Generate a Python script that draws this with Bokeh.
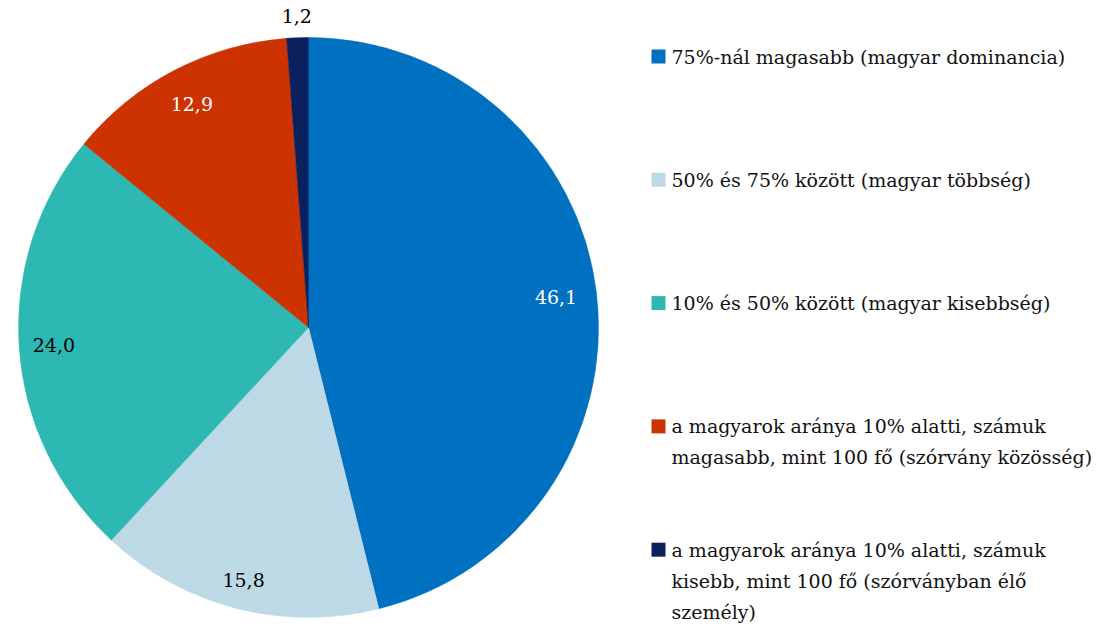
import math
from bokeh.plotting import figure
from bokeh.models import ColumnDataSource
from bokeh.core.properties import value
from bokeh.embed import file_html
from bokeh.resources import INLINE

# ---- data ----
categories = [
    "75%-nál magasabb (magyar dominancia)",
    "50% és 75% között (magyar többség)",
    "10% és 50% között (magyar kisebbség)",
    "a magyarok aránya 10% alatti, számuk\nmagasabb, mint 100 fő (szórvány közösség)",
    "a magyarok aránya 10% alatti, számuk\nkisebb, mint 100 fő (szórványban élő\nszemély)",
]
values = [46.1, 15.8, 24.0, 12.9, 1.2]
colors = ["#0070C0", "#BDD9E5", "#2EB8B4", "#CC3300", "#0B215E"]
label_colors = ["white", "black", "black", "white", "black"]
label_radius = [0.86, 0.90, 0.88, 0.87, 1.075]

FONT = "DejaVu Serif"
W, H = 1101, 623
p = figure(width=W, height=H, x_range=(0, W), y_range=(0, H),
           output_backend="svg", toolbar_location=None, min_border=0)
p.axis.visible = False
p.grid.visible = False
p.outline_line_color = None
p.background_fill_color = "white"

# pie geometry (screen px from top-left)
cx, cy_top, R = 308, 327, 290
cy = H - cy_top
total = sum(values)
starts, ends, lx, ly, labels = [], [], [], [], []
cum = 0.0
for i, v in enumerate(values):
    a0 = math.pi / 2 - 2 * math.pi * cum / total
    a1 = math.pi / 2 - 2 * math.pi * (cum + v) / total
    mid = (a0 + a1) / 2
    starts.append(a0)
    ends.append(a1)
    lx.append(cx + label_radius[i] * R * math.cos(mid))
    ly.append(cy + label_radius[i] * R * math.sin(mid))
    labels.append(f"{v:.1f}".replace(".", ","))
    cum += v

src = ColumnDataSource(dict(start=starts, end=ends, color=colors,
                            x=[cx] * len(values), y=[cy] * len(values)))
p.wedge(x="x", y="y", radius=R, radius_units="screen", start_angle="start",
        end_angle="end", direction="clock", fill_color="color",
        line_color="color", line_width=0.5, source=src)

p.text(x=lx, y=ly, text=labels, text_color=label_colors,
       text_font=value(FONT), text_font_size="19px",
       text_align="center", text_baseline="middle")

# ---- legend ----
top_img, step, line_h = 56, 123.3, 31
sq_x, sq_size, tx = 658, 14, 671
lg_x, lg_y, lg_t = [], [], []
sq_xs, sq_ys = [], []
for i, cat in enumerate(categories):
    yc = top_img + step * i
    sq_xs.append(sq_x)
    sq_ys.append(H - yc)
    for j, line in enumerate(cat.split("\n")):
        lg_x.append(tx)
        lg_y.append(H - (yc + j * line_h))
        lg_t.append(line)
p.rect(x=sq_xs, y=sq_ys, width=sq_size, height=sq_size, width_units="screen",
       height_units="screen", fill_color=colors, line_color=None)
p.text(x=lg_x, y=lg_y, text=lg_t, text_color="#111111",
       text_font=value(FONT), text_font_size="19px",
       text_align="left", text_baseline="middle")

open("out.html", "w").write(file_html(p, INLINE))
